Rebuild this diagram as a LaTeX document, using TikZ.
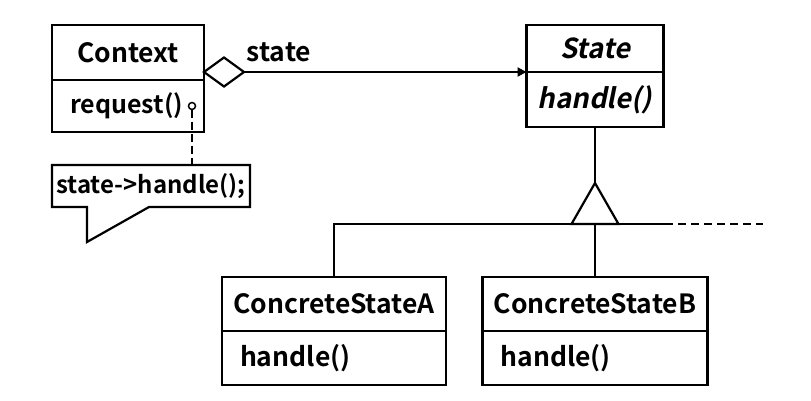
\documentclass[tikz,border=0pt]{standalone}
\usepackage{fontspec}
\setmainfont{Noto Sans CJK JP Bold}
\newfontfamily\slantfont{Noto Sans CJK JP Bold}[FakeSlant=0.2]
\usetikzlibrary{positioning,arrows.meta,calc,shapes.geometric}

\begin{document}
\begin{tikzpicture}[
    x=1pt, y=-1pt,
    line width=2.2pt,
    every node/.style={font=\fontsize{26.5}{30}\selectfont, outer sep=0pt},
    classhead/.style={draw, rectangle, inner sep=0pt, minimum height=#1},
    classops/.style={draw, rectangle, align=left, inner ysep=0pt, inner xsep=18pt, minimum height=#1},
    abstract/.style={font=\fontsize{27.5}{30}\selectfont\slantfont}
]
\useasboundingbox (0,0) rectangle (811,400);
% classes
\node[classhead=55pt, minimum width=152pt] (context) at (128,52.5) {Context};
\node[classops=52pt, text width=116pt, font=\fontsize{25}{30}\selectfont] (contextops) [below=0pt of context] {request()};
\node[classhead=47pt, minimum width=137pt, abstract] (statehead) at (595,48.5) {State};
\node[classhead=55pt, minimum width=137pt, abstract] (statebody) [below=0pt of statehead] {handle()};
\node[classhead=54pt, minimum width=224pt] (concA) at (334,304) {ConcreteStateA};
\node[classops=54pt, text width=188pt] (concAops) [below=0pt of concA] {handle()};
\node[classhead=54pt, minimum width=225pt] (concB) at (595,304) {ConcreteStateB};
\node[classops=54pt, text width=189pt] (concBops) [below=0pt of concB] {handle()};

% note
\node[circle, draw, line width=1.5pt, minimum size=7pt, inner sep=0pt] (reqpin) at (192,106) {};
\node[minimum width=198pt, minimum height=42pt, inner sep=0pt, font=\fontsize{24}{28}\selectfont] (note) at (151,186) {state->handle();};
\coordinate (notetip) at (87,242);
\draw (note.north west) -- (note.north east) -- (note.south east)
  -- ([xshift=97pt]note.south west) -- (notetip) -- ([xshift=35pt]note.south west)
  -- (note.south west) -- cycle;
\draw[dashed, dash pattern=on 8pt off 4pt] (reqpin.south) -- (reqpin |- note.north);

% association
\node[diamond, draw, minimum width=40pt, minimum height=29pt, inner sep=0pt, anchor=west] (agg) at (context.east |- statehead.south) {};
\draw[-{Triangle[length=9pt,width=9pt]}] (agg.east) -- (statehead.south west);
\node (rolename) at (279,52) {state};

% inheritance
\coordinate (apex) at (595,183);
\coordinate (busend) at (665,224);
\draw (statebody.south) -- (apex);
\draw (concA.north) |- (busend);
\draw[dashed, dash pattern=on 8pt off 5pt] (busend) -- ++(98,0);
\draw (concB.north) -- (concB.north |- busend);
\draw[fill=white] (apex) -- ++(-23.5,41) -- ++(47,0) -- cycle;
\end{tikzpicture}
\end{document}
